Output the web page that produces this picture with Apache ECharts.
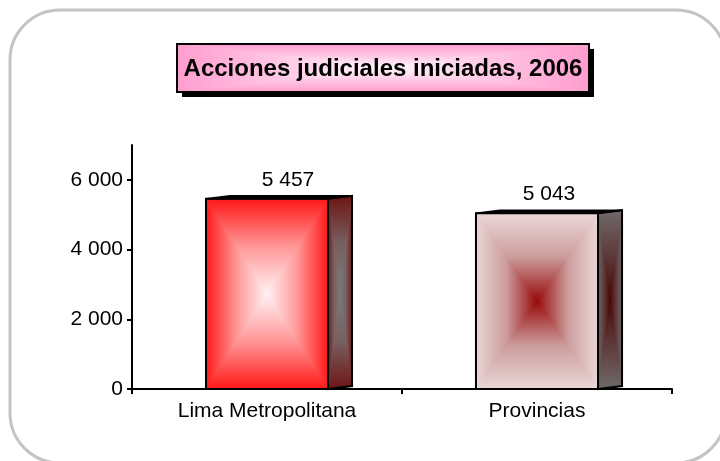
<!DOCTYPE html>
<html>
<head>
<meta charset="utf-8">
<title>Acciones judiciales iniciadas, 2006</title>
<script src="https://cdn.jsdelivr.net/npm/echarts@6/dist/echarts.min.js"></script>
<style>
html, body { margin: 0; padding: 0; background: #fff; }
#chart { width: 720px; height: 461px; }
</style>
</head>
<body>
<div id="chart"></div>
<script>
// datos del grafico
const categorias = ['Lima Metropolitana', 'Provincias'];
const acciones = [5457, 5043];
const marcasY = [0, 2000, 4000, 6000];

// colores: [borde, medio, centro]
const estilos = [
  { frente: ['#ff1616', '#ff9696', '#fff3f5'], lado: ['#6e1414', '#786060', '#7c7a7a'], dx: 9 },
  { frente: ['#ebd8d8', '#cc9c9c', '#980808'], lado: ['#6f6a6a', '#5e3a3a', '#480404'], dx: 0 }
];
const colorTitulo = ['#ff9ccf', '#ffc8e4', '#fff8fc'];
const fuente = '"Liberation Sans", Arial, sans-serif';

function miles(v) {
  return String(v).replace(/\B(?=(\d{3})+(?!\d))/g, ' ');
}

// degradado rectangular (4 triangulos hacia el centro)
function cuadro(pts, c) {
  const cx = (pts[0][0] + pts[1][0] + pts[2][0] + pts[3][0]) / 4;
  const cy = (pts[0][1] + pts[1][1] + pts[2][1] + pts[3][1]) / 4;
  const m = [cx, cy];
  const g = (x, y, x2, y2) => ({
    type: 'linear', x: x, y: y, x2: x2, y2: y2,
    colorStops: [
      { offset: 0, color: c[0] },
      { offset: 0.5, color: c[1] },
      { offset: 1, color: c[2] }
    ]
  });
  const tri = (a, b, grad) => ({
    type: 'polygon',
    shape: { points: [a, b, m] },
    style: { fill: grad, stroke: grad, lineWidth: 1 }
  });
  return [
    { type: 'polygon', shape: { points: pts }, style: { fill: c[1] } },
    tri(pts[0], pts[1], g(0, 0, 0, 1)),
    tri(pts[1], pts[2], g(1, 0, 0, 0)),
    tri(pts[2], pts[3], g(0, 1, 0, 0)),
    tri(pts[3], pts[0], g(0, 0, 1, 0))
  ];
}

function barra3d(params, api) {
  const i = params.dataIndex;
  const est = estilos[i];
  const arriba = api.coord([api.value(0), api.value(1)]);
  const base = api.coord([api.value(0), 0]);
  const banda = api.size([1, 0])[0];
  const w = banda * 0.452, d = banda * 0.089, h = 3;
  const x0 = arriba[0] - w / 2, x1 = arriba[0] + w / 2;
  const yt = arriba[1], yb = base[1];

  const frente = [[x0, yt], [x1, yt], [x1, yb], [x0, yb]];
  const lado = [[x1, yt], [x1 + d, yt - h], [x1 + d, yb - h], [x1, yb]];
  const tapa = [[x0, yt], [x0 + d, yt - h], [x1 + d, yt - h], [x1, yt]];

  const hijos = []
    .concat(cuadro(frente, est.frente))
    .concat(cuadro(lado, est.lado))
    .concat([
      { type: 'polygon', shape: { points: frente }, style: { fill: null, stroke: '#000', lineWidth: 2 } },
      { type: 'polygon', shape: { points: lado }, style: { fill: null, stroke: '#000', lineWidth: 2 } },
      { type: 'polygon', shape: { points: tapa }, style: { fill: '#000', stroke: '#000', lineWidth: 1.5 } },
      {
        type: 'text',
        x: (x0 + x1 + d) / 2 + est.dx,
        y: yt - 19,
        style: {
          text: miles(api.value(1)),
          fontSize: 21, fontFamily: fuente, fill: '#000',
          align: 'center', verticalAlign: 'middle'
        }
      }
    ]);
  return { type: 'group', children: hijos };
}

const chart = echarts.init(document.getElementById('chart'));

const tx0 = 177, ty0 = 44, tx1 = 589, ty1 = 92;

const option = {
  backgroundColor: '#fff',
  animation: false,
  grid: {
    left: 132, right: 48, top: 145, bottom: 72,
    containLabel: false, outerBoundsMode: 'none'
  },
  graphic: {
    elements: [
      {
        type: 'rect',
        shape: { x: 10, y: 10, width: 716, height: 453, r: 50 },
        style: { fill: null, stroke: '#c4c4c4', lineWidth: 3 },
        z: 0
      },
      {
        type: 'group',
        z: 10,
        children: [
          { type: 'rect', shape: { x: tx0 + 5, y: ty0 + 5, width: tx1 - tx0, height: ty1 - ty0 }, style: { fill: '#000' } }
        ].concat(cuadro([[tx0, ty0], [tx1, ty0], [tx1, ty1], [tx0, ty1]], colorTitulo)).concat([
          { type: 'rect', shape: { x: tx0, y: ty0, width: tx1 - tx0, height: ty1 - ty0 }, style: { fill: null, stroke: '#000', lineWidth: 2 } },
          {
            type: 'text', x: (tx0 + tx1) / 2, y: (ty0 + ty1) / 2 + 1,
            style: {
              text: 'Acciones judiciales iniciadas, 2006',
              fontSize: 24, fontWeight: 'bold', fontFamily: fuente, fill: '#000',
              align: 'center', verticalAlign: 'middle'
            }
          }
        ])
      }
    ]
  },
  xAxis: {
    type: 'category',
    data: categorias,
    axisLine: { lineStyle: { color: '#000', width: 2 } },
    axisTick: { show: true, length: 5, lineStyle: { color: '#000', width: 2 } },
    axisLabel: { interval: 0, margin: 12, fontSize: 21, fontFamily: fuente, color: '#000' },
    splitLine: { show: false }
  },
  yAxis: {
    type: 'value',
    min: 0,
    max: 7000,
    axisLine: { show: true, lineStyle: { color: '#000', width: 2 } },
    axisTick: { show: true, length: 5, lineStyle: { color: '#000', width: 2 }, customValues: marcasY },
    axisLabel: {
      margin: 9, fontSize: 21, fontFamily: fuente, color: '#000',
      customValues: marcasY,
      formatter: v => miles(v)
    },
    splitLine: { show: false }
  },
  series: [
    {
      type: 'custom',
      renderItem: barra3d,
      clip: false,
      encode: { x: 0, y: 1 },
      data: acciones.map((v, i) => [i, v])
    }
  ]
};

chart.setOption(option);
</script>
</body>
</html>
